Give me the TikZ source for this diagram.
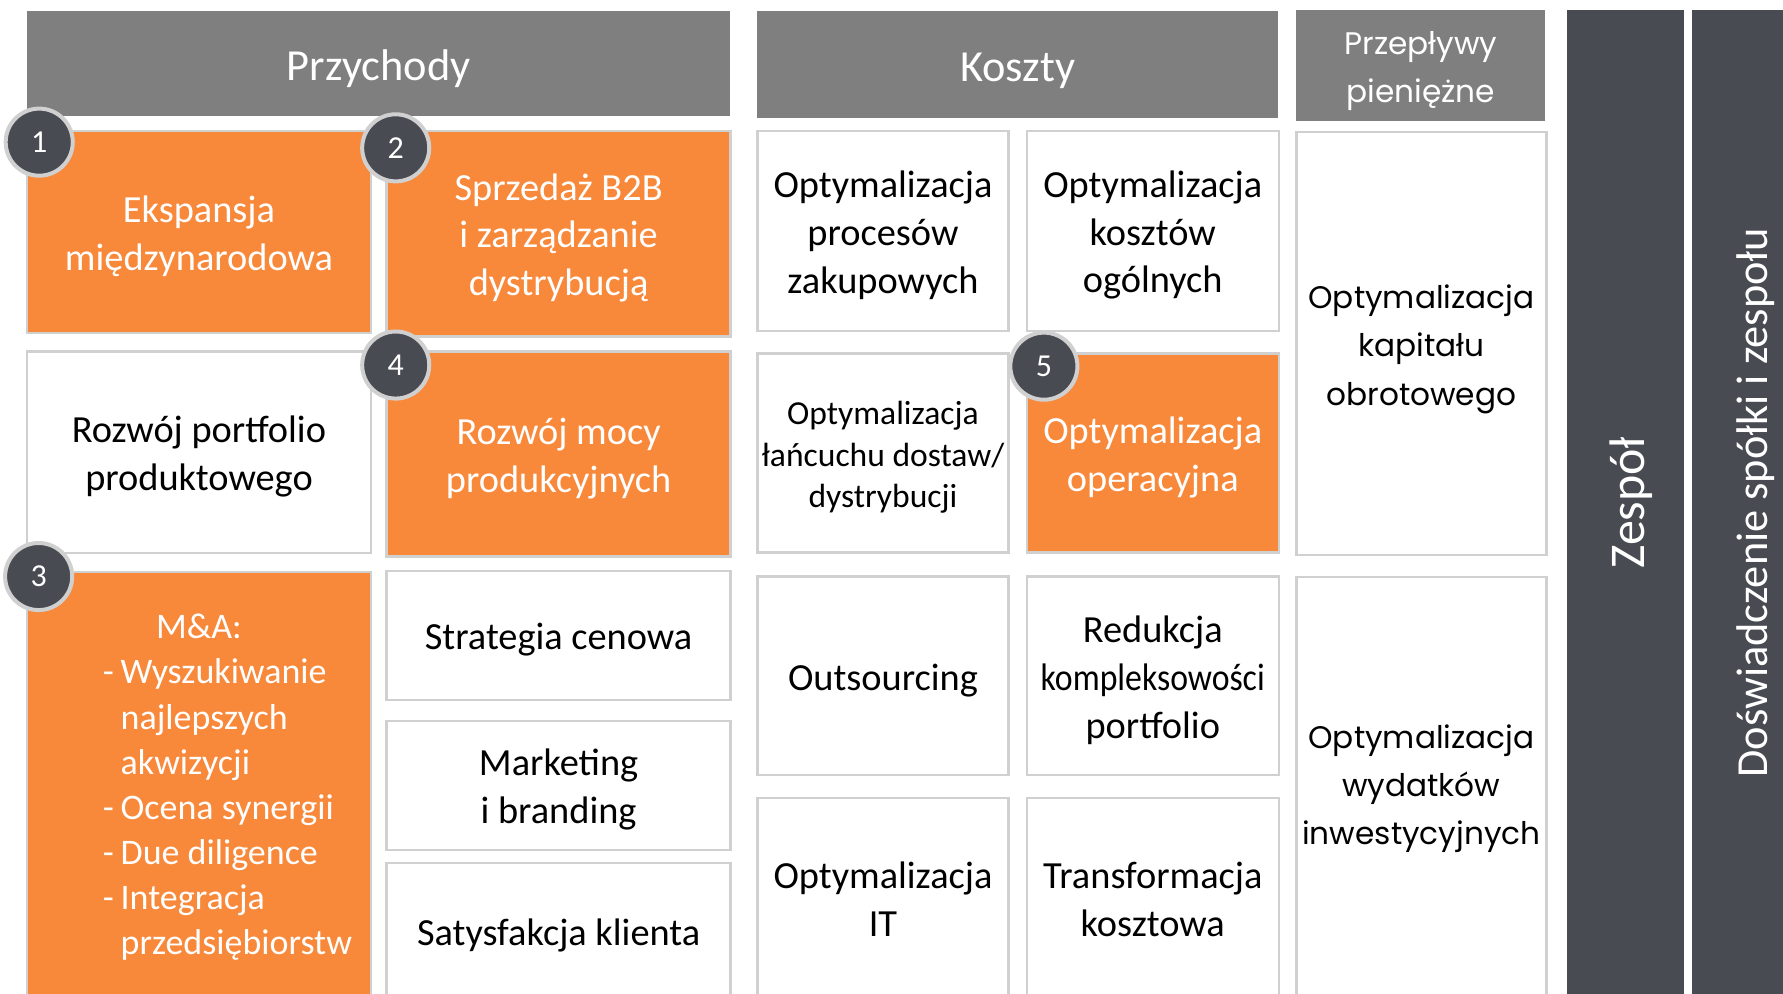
\documentclass[tikz,border=0pt]{standalone}
\usepackage{fontspec}
\usepackage{graphicx}
\setmainfont{Carlito}
\newfontfamily\geofont{Poppins}
\usetikzlibrary{positioning}
\definecolor{orangebox}{HTML}{F8883A}
\definecolor{headgray}{HTML}{7F7F7F}
\definecolor{darkbar}{HTML}{484B52}
\definecolor{edgegray}{HTML}{D0D0D0}
% lowers the text a little inside its box
\newcommand{\padtop}[1][8.8pt]{\rule{0pt}{#1}}

\begin{document}
\begin{tikzpicture}[x=1mm, y=-1mm,
    hdr/.style={fill=headgray, text=white, inner sep=0pt, align=center, font=\fontsize{11.1}{13.5}\selectfont},
    wbox/.style={draw=edgegray, line width=0.6pt, fill=white, inner sep=0pt, align=center, font=\fontsize{9.6}{11.95}\selectfont},
    obox/.style={wbox, fill=orangebox, text=white},
    gbox/.style={wbox, font=\geofont\fontsize{7.8}{12.1}\selectfont},
    bar/.style={fill=darkbar, text=white, inner sep=0pt, rotate=90},
    badge/.style={circle, draw=edgegray, line width=1pt, fill=darkbar, text=white, minimum size=5.9mm, inner sep=0pt, font=\fontsize{8}{8}\selectfont}]
    \path[use as bounding box, fill=white] (0,0) rectangle (156.8,87.4);
    \clip (0,0) rectangle (156.8,87.4);

    % Headers
    \node[hdr, minimum width=61.8mm, minimum height=9.2mm] (przychody) at (33.3,5.6) {\padtop[10.2pt]Przychody};
    \node[hdr, minimum width=45.8mm, minimum height=9.4mm] (koszty) at (89.5,5.7) {\padtop[10.2pt]Koszty};
    \node[hdr, minimum width=21.9mm, minimum height=9.7mm, font=\geofont\fontsize{7.8}{12}\selectfont] (przeplywy) at (124.95,5.75) {\padtop Przepływy\\pieniężne};

    % Side bars
    \node[bar, minimum width=86.6mm, minimum height=10.3mm, font=\fontsize{12.5}{14}\selectfont] (zespol) at (142.95,44.2) {\padtop[11.6pt]Zespół};
    \node[bar, minimum width=86.6mm, minimum height=10.3mm, font=\fontsize{11.1}{13}\selectfont] (doswiadczenie) at (153.95,44.2) {\padtop[10pt]Doświadczenie spółki i zespołu};

    % Przychody
    \node[obox, minimum width=30.3mm, minimum height=17.8mm] (ekspansja) at (17.5,20.4) {\padtop Ekspansja\\międzynarodowa};
    \node[obox, minimum width=30.25mm, minimum height=18.1mm] (sprzedaz) at (49.125,20.55) {\padtop Sprzedaż B2B\\i zarządzanie\\dystrybucją};
    \node[wbox, minimum width=30.3mm, minimum height=17.75mm] (portfolio) at (17.5,39.775) {\padtop Rozwój portfolio\\produktowego};
    \node[obox, minimum width=30.25mm, minimum height=18.05mm] (moce) at (49.125,39.925) {\padtop Rozwój mocy\\produkcyjnych};
    \node[obox, minimum width=30.3mm, minimum height=37.5mm, font=\fontsize{9}{11.3}\selectfont] (akwizycje) at (17.5,69.05)
        {\padtop[9.2pt]M\&A:\\\hspace*{5mm}\begin{tabular}[t]{@{}l@{\hspace{0.6mm}}l@{}}
        -&Wyszukiwanie\\&najlepszych\\&akwizycji\\-&Ocena synergii\\-&Due diligence\\-&Integracja\\&przedsiębiorstw
        \end{tabular}};
    \node[wbox, minimum width=30.25mm, minimum height=11.35mm] (cena) at (49.125,55.875) {\padtop Strategia cenowa};
    \node[wbox, minimum width=30.25mm, minimum height=11.35mm] (marketing) at (49.125,69.075) {\padtop Marketing\\i branding};
    \node[wbox, minimum width=30.25mm, minimum height=12mm] (klient) at (49.125,81.9) {\padtop Satysfakcja klienta};

    % Koszty
    \node[wbox, minimum width=22.1mm, minimum height=17.6mm] (zakupy) at (77.65,20.3) {\padtop Optymalizacja\\procesów\\zakupowych};
    \node[wbox, minimum width=22.15mm, minimum height=17.6mm] (ogolne) at (101.375,20.3) {\padtop Optymalizacja\\kosztów\\ogólnych};
    \node[wbox, minimum width=22.1mm, minimum height=17.5mm, font=\fontsize{8.4}{10.4}\selectfont] (lancuch) at (77.65,39.85) {\padtop[8pt]Optymalizacja\\łańcuchu dostaw/\\dystrybucji};
    \node[obox, minimum width=22.15mm, minimum height=17.5mm] (operacje) at (101.375,39.85) {\padtop Optymalizacja\\operacyjna};
    \node[wbox, minimum width=22.1mm, minimum height=17.45mm] (outsourcing) at (77.65,59.425) {\padtop Outsourcing};
    \node[wbox, minimum width=22.15mm, minimum height=17.45mm] (redukcja) at (101.375,59.425) {\padtop Redukcja\\\scalebox{0.88}[1]{kompleksowości}\\portfolio};
    \node[wbox, minimum width=22.1mm, minimum height=17.8mm] (it) at (77.65,79.1) {Optymalizacja\\IT};
    \node[wbox, minimum width=22.15mm, minimum height=17.8mm] (transformacja) at (101.375,79.1) {Transformacja\\kosztowa};

    % Przeplywy pieniezne
    \node[gbox, minimum width=22mm, minimum height=37.2mm] (kapital) at (125,30.2) {\padtop Optymalizacja\\kapitału\\obrotowego};
    \node[gbox, minimum width=22mm, minimum height=37.2mm] (capex) at (125,69.35) {Optymalizacja\\wydatków\\inwestycyjnych};

    % Numbers
    \node[badge] (n1) at (3.45,12.5) {1};
    \node[badge] (n2) at (34.8,13.0) {2};
    \node[badge] (n3) at (3.4,50.7) {3};
    \node[badge] (n4) at (34.8,32.1) {4};
    \node[badge] (n5) at (91.8,32.2) {5};
\end{tikzpicture}
\end{document}
